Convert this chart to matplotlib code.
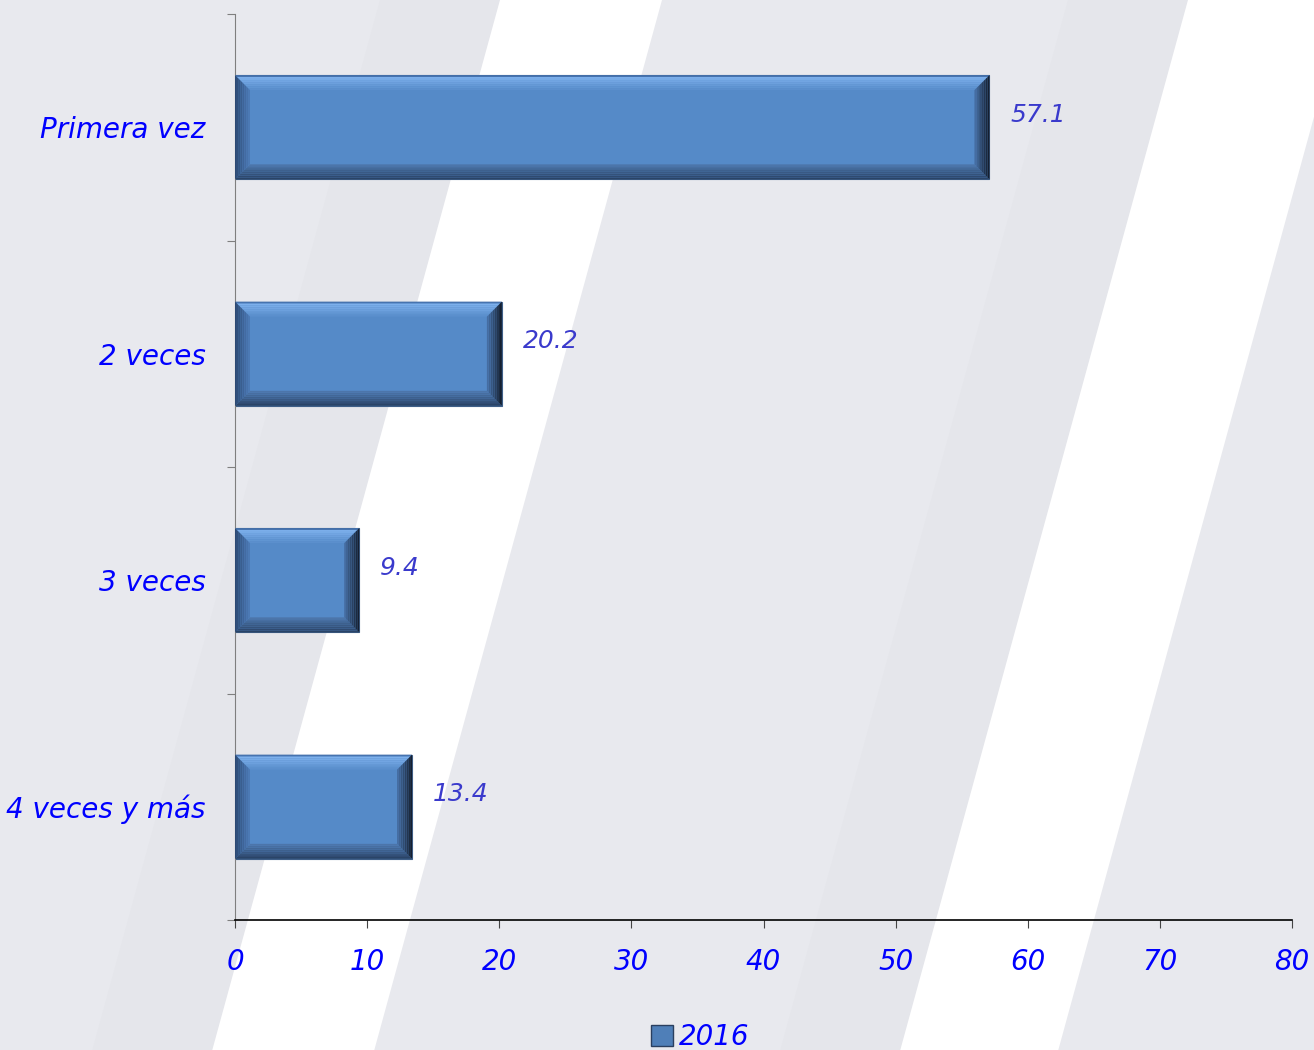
import matplotlib.pyplot as plt
import numpy as np
from matplotlib.patches import Polygon, Patch

# data
categories = ['Primera vez', '2 veces', '3 veces', '4 veces y más']
values = [57.1, 20.2, 9.4, 13.4]
value_labels = ['57.1', '20.2', '9.4', '13.4']
xticks = [0, 10, 20, 30, 40, 50, 60, 70, 80]
legend_label = '2016'

W, H = 1314, 1050
plt.rcParams['font.family'] = ['DejaVu Sans']
fig = plt.figure(figsize=(W / 100, H / 100), dpi=100)
fig.patch.set_facecolor('#e8e9ee')


def fig_poly(pts, color):
    # pts in pixel coords, y from top
    xy = [(x / W, 1 - y / H) for x, y in pts]
    fig.patches.append(Polygon(xy, closed=True, facecolor=color, edgecolor='none',
                               transform=fig.transFigure, zorder=-10))


# diagonal background stripes
slope = 0.274
for left0, width in [(500, 162), (1188, 158)]:
    def edge(x, y):
        return x - slope * y
    fig_poly([(edge(left0 - 120, 0), 0), (edge(left0, 0), 0),
              (edge(left0, H), H), (edge(left0 - 120, H), H)], '#e5e6eb')
    fig_poly([(edge(left0, 0), 0), (edge(left0 + width, 0), 0),
              (edge(left0 + width, H), H), (edge(left0, H), H)], '#ffffff')

ax = fig.add_axes([235 / W, 1 - 920 / H, (1292 - 235) / W, (920 - 14) / H])
ax.set_facecolor('none')

n = len(categories)
ypos = np.arange(n)[::-1]
ax.set_xlim(0, 80)
ax.set_ylim(-0.5, n - 0.5)

bar_h = 0.46
main = np.array([85, 138, 200]) / 255
ax.barh(ypos, values, height=bar_h, color=main, edgecolor='#3f5f88', linewidth=0.8, zorder=2)

# bevel effect
inv = ax.transData.inverted()
b_px = 15
p0 = inv.transform((0, 0))
p1 = inv.transform((b_px, b_px))
bx, by = p1[0] - p0[0], p1[1] - p0[1]

sides = {
    'top': (np.array([70, 115, 175]) / 255, np.array([125, 176, 236]) / 255),
    'bottom': (np.array([40, 64, 98]) / 255, np.array([78, 120, 175]) / 255),
    'left': (np.array([42, 70, 110]) / 255, np.array([78, 124, 185]) / 255),
    'right': (np.array([18, 26, 40]) / 255, np.array([72, 114, 170]) / 255),
}
steps = 8
for y, v in zip(ypos, values):
    x0, x1 = 0, v
    y0, y1 = y - bar_h / 2, y + bar_h / 2
    for i in range(steps):
        t0, t1 = i / steps, (i + 1) / steps
        r0 = (x0 + bx * t0, y0 + by * t0, x1 - bx * t0, y1 - by * t0)
        r1 = (x0 + bx * t1, y0 + by * t1, x1 - bx * t1, y1 - by * t1)
        f = (i + 0.5) / steps
        polys = {
            'top': [(r0[0], r0[3]), (r0[2], r0[3]), (r1[2], r1[3]), (r1[0], r1[3])],
            'bottom': [(r0[0], r0[1]), (r0[2], r0[1]), (r1[2], r1[1]), (r1[0], r1[1])],
            'left': [(r0[0], r0[1]), (r0[0], r0[3]), (r1[0], r1[3]), (r1[0], r1[1])],
            'right': [(r0[2], r0[1]), (r0[2], r0[3]), (r1[2], r1[3]), (r1[2], r1[1])],
        }
        for side, pts in polys.items():
            c_out, c_in = sides[side]
            if side == 'top':
                # thin darker rim, then bright, then fading to main
                g = max(i - 1, 0) / (steps - 1)
                c = c_out if i == 0 else c_in * (1 - g) + main * g
            else:
                c = c_out * (1 - f) + c_in * f
            ax.add_patch(Polygon(pts, closed=True, facecolor=np.clip(c, 0, 1),
                                 edgecolor='none', zorder=3))

for y, v, lab in zip(ypos, values, value_labels):
    ax.annotate(lab, (v, y), xytext=(15, 9), textcoords='offset points',
                ha='left', va='center', fontsize=18, style='italic', color='#3a3acc')

# axes styling
for s in ['top', 'right']:
    ax.spines[s].set_visible(False)
ax.spines['left'].set_color('#7f7f7f')
ax.spines['bottom'].set_color('black')
ax.spines['bottom'].set_linewidth(1.2)

ax.set_xticks(xticks)
ax.set_xticklabels([str(t) for t in xticks], fontsize=20, style='italic', color='#0000ff')
ax.tick_params(axis='x', direction='out', length=6, color='#444444', pad=14)

ax.set_yticks(np.arange(-0.5, n, 1.0))
ax.set_yticklabels([])
ax.tick_params(axis='y', which='major', direction='out', length=6, color='#7f7f7f')
ax.set_yticks(ypos, minor=True)
ax.set_yticklabels(categories, minor=True, fontsize=20, style='italic', color='#0000ff')
ax.tick_params(axis='y', which='minor', length=0, pad=21)

handle = Patch(facecolor='#4f7fb8', edgecolor='#2a3f5f', linewidth=1)
leg = fig.legend([handle], [legend_label], loc='center', bbox_to_anchor=(700 / W, 13 / H),
                 frameon=False, handlelength=0.8, handleheight=0.8, handletextpad=0.2,
                 prop={'size': 20, 'style': 'italic'})
for t in leg.get_texts():
    t.set_color('#0000ff')

fig.savefig('out.png', dpi=100, facecolor=fig.get_facecolor())
